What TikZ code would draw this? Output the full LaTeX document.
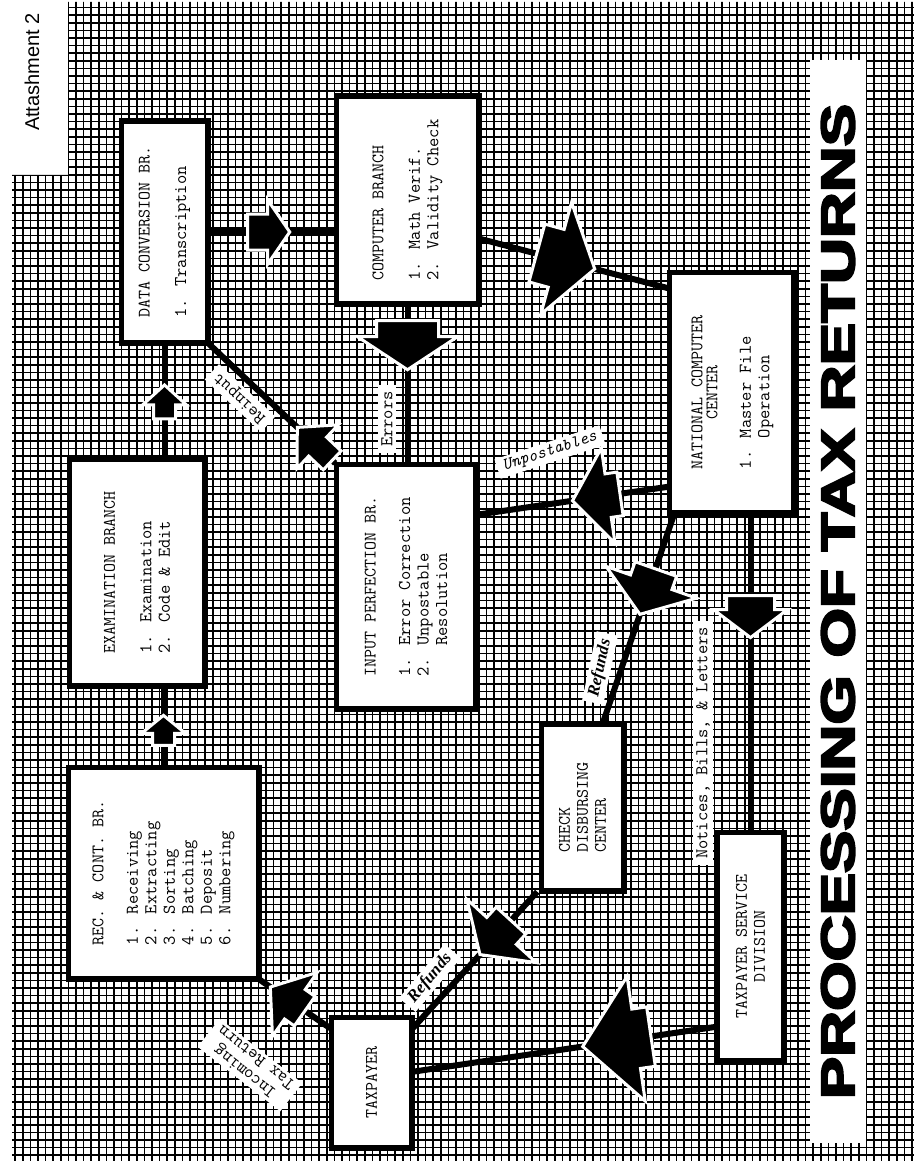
\documentclass[tikz,border=0pt]{standalone}
\usepackage{fontspec}
\usepackage{graphicx}
\usetikzlibrary{calc}
\newfontfamily\sansfnt{Liberation Sans}
\newfontfamily\heavyfnt{Liberation Sans Bold}[FakeBold=4]
\newfontfamily\refundfnt{Liberation Serif}
\newcommand\boxfnt{\ttfamily\addfontfeatures{FakeBold=1.2}\fontsize{18pt}{18.5pt}\selectfont}
\newcommand\ttlfnt{\ttfamily\addfontfeatures{FakeBold=0.8}\fontsize{17.5pt}{18pt}\selectfont}
\newcommand\slfnt{\refundfnt\bfseries\itshape\fontsize{17pt}{17pt}\selectfont}
% block arrow: #1 tip coordinate, #2 direction (deg), #3 head length,
% #4 head half width, #5 shaft length, #6 shaft half width
\newcommand\blkarrow[6]{%
  \begin{scope}[shift={(#1)}, rotate=#2]
    \filldraw[blockarrow] (0,0) -- (-#3,#4) -- (-#3,#6) -- ({-#3-#5},#6)
      -- ({-#3-#5},-#6) -- (-#3,-#6) -- (-#3,-#4) -- cycle;
  \end{scope}}
\begin{document}
\begin{tikzpicture}[x=1pt, y=-1pt,
  box/.style={draw=black, line width=3.5pt, fill=white, inner sep=0pt},
  boxtext/.style={rotate=90, align=left, font=\boxfnt, inner sep=0pt},
  conn/.style={line width=6pt, black},
  lbl/.style={fill=white, inner xsep=6pt, inner ysep=3pt, font=\boxfnt},
  blockarrow/.style={fill=black, draw=white, line width=3pt, line join=miter},
  gridline/.style={line width=1.6pt, black}]
\fill[white] (0,0) rectangle (914,1161);
\useasboundingbox (0,0) rectangle (914,1161);

% ruled background
\begin{scope}
  \clip (12,175) -- (68,175) -- (68,2) -- (914,2) -- (914,1161) -- (12,1161) -- cycle;
  \draw[gridline, step=7.6pt] (10,0) grid (914,1161);
\end{scope}

\node[rotate=90, inner sep=0pt, font=\sansfnt\fontsize{20pt}{20pt}\selectfont] (attach) at (32,72) {Attashment 2};

% title band
\node[fill=white, minimum width=56pt, minimum height=1083pt, inner sep=0pt] (band) at (838,601.5) {};
\node[rotate=90, inner sep=0pt] (title) at (band.center) {\resizebox{995pt}{33pt}{\heavyfnt PROCESSING OF TAX RETURNS}};

% boxes
\node[box, minimum width=85pt, minimum height=220pt] (data) at (164.5,232) {};
\node[box, minimum width=141pt, minimum height=206pt] (comp) at (407.5,200) {};
\node[box, minimum width=134pt, minimum height=225pt] (exam) at (137,572.5) {};
\node[box, minimum width=138pt, minimum height=243pt] (input) at (406,586.5) {};
\node[box, minimum width=123pt, minimum height=239pt] (natl) at (731.5,392.5) {};
\node[box, minimum width=189pt, minimum height=210pt] (rec) at (163.5,873) {};
\node[box, minimum width=81pt, minimum height=165pt] (check) at (582.5,807.5) {};
\node[box, minimum width=79pt, minimum height=129pt] (taxp) at (371.5,1082.5) {};
\node[box, minimum width=65pt, minimum height=227pt] (tsd) at (750.5,946.5) {};

% connectors
\draw[conn] (data.east) -- (comp.west |- data.east) coordinate[pos=0.64] (tipA);
\draw[conn] (comp.south) -- (comp.south |- input.north) coordinate[pos=0.41] (tipB);
\draw[conn] (exam.north -| data.south) -- (data.south) coordinate[pos=0.64] (tipC);
\draw[conn] (rec.north) -- (rec.north |- exam.south) coordinate[pos=0.64] (tipD);
\draw[conn] (input.north west) -- (data.south east) coordinate[pos=0.3] (tipE);
\draw[conn] ($(comp.south east)+(0,-66)$) -- ($(natl.north west)+(0,17)$) coordinate[pos=0.61] (tipF);
\draw[conn] ($(natl.south west)+(0,-27)$) -- ($(input.south east)+(0,-195)$) coordinate[pos=0.5] (tipG);
\draw[conn] ($(natl.south west)+(6,0)$) -- ($(check.north east)+(-22,0)$) coordinate[pos=0.48] (tipH);
\draw[conn] (natl.south -| tsd.north) -- (tsd.north) coordinate[pos=0.39] (tipI);
\draw[conn] ($(check.south west)+(-3,0)$) -- ($(taxp.north east)+(0,12)$) coordinate[pos=0.46] (tipJ);
\draw[conn] ($(taxp.north west)+(0,12)$) -- (rec.south east) coordinate[pos=0.85] (tipK);
\draw[conn] ($(tsd.south west)+(0,-35)$) -- ($(taxp.south east)+(0,-77)$) coordinate[pos=0.44] (tipL);

% redraw box frames over connector ends
\foreach \b in {data,comp,exam,input,natl,rec,check,taxp,tsd}
  \draw[line width=3.5pt] (\b.north west) rectangle (\b.south east);

% box texts
\node[boxtext] (datat) at (data.center) {{\ttlfnt DATA CONVERSION BR.}\\[18pt]1. Transcription};
\node[boxtext] (compt) at (comp.center) {{\ttlfnt COMPUTER BRANCH}\\[18pt]1. Math Verif.\\2. Validity Check};
\node[boxtext] (examt) at (exam.center) {{\ttlfnt EXAMINATION BRANCH}\\[18pt]1. Examination\\2. Code \& Edit};
\node[boxtext] (inputt) at (input.center) {{\ttlfnt INPUT PERFECTION BR.}\\[16pt]1. Error Correction\\2. Unpostable\\\phantom{2. }Resolution};
\node[boxtext] (natlt) at (natl.center) {{\ttlfnt\begin{tabular}{@{}c@{}}NATIONAL COMPUTER\\[-3pt]CENTER\end{tabular}}\\[16pt]1. Master File\\\phantom{1. }Operation};
\node[boxtext] (rect) at (rec.center) {{\ttlfnt REC. \& CONT. BR.}\\[16pt]1. Receiving\\2. Extracting\\3. Sorting\\4. Batching\\5. Deposit\\6. Numbering};
\node[boxtext, font=\ttlfnt] (checkt) at (check.center) {CHECK\\DISBURSING\\CENTER};
\node[boxtext, font=\ttlfnt] (taxpt) at (taxp.center) {TAXPAYER};
\node[boxtext, align=center, font=\ttlfnt] (tsdt) at (tsd.center) {TAXPAYER SERVICE\\DIVISION};

% block arrows
\blkarrow{tipA}{0}{22}{32}{20}{18}
\blkarrow{tipB}{270}{33}{50}{16}{31}
\blkarrow{tipC}{90}{20}{22}{14}{11}
\blkarrow{tipD}{90}{18}{22}{12}{11}
\blkarrow{tipE}{136.6}{28}{30}{20}{13}
\blkarrow{tipF}{-15.4}{40}{58}{20}{30}
\blkarrow{tipG}{188.2}{36}{48}{12}{22}
\blkarrow{tipH}{250.6}{34}{48}{14}{22}
\blkarrow{tipI}{270}{28}{37}{14}{24}
\blkarrow{tipJ}{227.6}{32}{47}{14}{20}
\blkarrow{tipK}{144.9}{30}{39}{12}{18}
\blkarrow{tipL}{188.3}{54}{63}{15}{30}

% connector labels
\node[lbl, rotate=90] (errors) at (387,419) {Errors};
\node[lbl, rotate=137] (reinput) at (240,398) {Reinput};
\node[lbl, rotate=18, font=\ttfamily\itshape\fontsize{17pt}{17pt}\selectfont] (unpost) at (550,452) {Unpostables};
\node[lbl, rotate=78, font=\slfnt] (refundA) at (600,668) {Refunds};
\node[lbl, rotate=90] (notices) at (703,743) {Notices, Bills, \& Letters};
\node[lbl, rotate=50, font=\slfnt] (refundB) at (430,978) {Refunds};
\node[lbl, rotate=142, align=center] (incoming) at (250,1065) {Incoming\\Tax Return};
\end{tikzpicture}
\end{document}
